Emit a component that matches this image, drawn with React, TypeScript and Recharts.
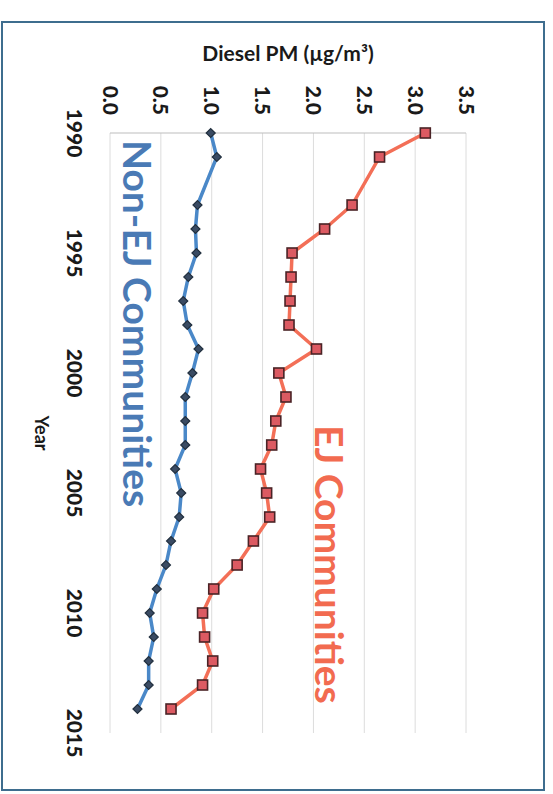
import React from 'react';
import { LineChart, Line, XAxis, YAxis, CartesianGrid } from 'recharts';

const years = [1990, 1991, 1993, 1994, 1995, 1996, 1997, 1998, 1999, 2000, 2001, 2002, 2003, 2004, 2005, 2006, 2007, 2008, 2009, 2010, 2011, 2012, 2013, 2014];
const ejValues = [3.1, 2.65, 2.38, 2.11, 1.79, 1.78, 1.77, 1.76, 2.03, 1.66, 1.73, 1.63, 1.59, 1.48, 1.54, 1.57, 1.41, 1.25, 1.02, 0.91, 0.93, 1.01, 0.91, 0.6];
const nonEjValues = [0.99, 1.05, 0.86, 0.84, 0.85, 0.77, 0.72, 0.76, 0.87, 0.81, 0.74, 0.74, 0.74, 0.64, 0.7, 0.68, 0.6, 0.55, 0.46, 0.39, 0.43, 0.38, 0.38, 0.27];
const yearTicks = [1990, 1995, 2000, 2005, 2010, 2015];
const valueTicks = [0, 0.5, 1, 1.5, 2, 2.5, 3, 3.5];

const data = years.map((y, i) => ({ year: y, ej: ejValues[i], nonEj: nonEjValues[i] }));

const FONT = 'Lato, "Open Sans", sans-serif';
const W = 768;
const H = 530;

const SquareDot = (props: any) => {
  const { cx, cy, index } = props;
  if (cx == null || cy == null) return <g key={`s${index}`} />;
  return (
    <rect key={`s${index}`} x={cx - 5} y={cy - 5} width={10} height={10}
      fill="#dc5a62" stroke="#4a2326" strokeWidth={1.6} />
  );
};

const DiamondDot = (props: any) => {
  const { cx, cy, index } = props;
  if (cx == null || cy == null) return <g key={`d${index}`} />;
  const r = 4.5;
  return (
    <polygon key={`d${index}`}
      points={`${cx},${cy - r} ${cx + r},${cy} ${cx},${cy + r} ${cx - r},${cy}`}
      fill="#3a4b63" stroke="#22303f" strokeWidth={1.2} />
  );
};

const fmt = (v: number) => v.toFixed(1);

export default function App() {
  return (
    <div style={{ position: 'absolute', left: 0, top: 0, width: 553, height: 794, background: '#ffffff', overflow: 'hidden' }}>
      <div style={{ position: 'absolute', left: 1, top: 21, width: 544, height: 770, border: '2px solid #3e6d8e', boxSizing: 'border-box' }} />
      <div style={{ position: 'absolute', left: 0, top: 0, width: W, height: H, transformOrigin: '0 0', transform: 'translate(540px, 22px) rotate(90deg)' }}>
        <LineChart width={W} height={H} data={data} margin={{ top: 74, right: 57, bottom: 0, left: 0 }}>
          <CartesianGrid vertical={false} stroke="#dcdcdc" strokeWidth={1} />
          <XAxis dataKey="year" type="number" domain={[1990, 2015]} ticks={yearTicks}
            height={100} axisLine={false} tickLine={false} tickSize={0} tickMargin={28}
            tick={{ fontFamily: FONT, fontWeight: 900, fontSize: 21, fill: '#1a1a1a' }} />
          <YAxis type="number" domain={[0, 3.5]} ticks={valueTicks} width={111}
            axisLine={{ stroke: '#bdbdbd', strokeWidth: 1.2 }} tickLine={false} tickSize={0} tickMargin={18}
            tickFormatter={fmt}
            tick={{ fontFamily: FONT, fontWeight: 900, fontSize: 21, fill: '#1a1a1a' }} />
          <Line type="linear" dataKey="ej" stroke="#f36f57" strokeWidth={3.5}
            dot={SquareDot} activeDot={false} isAnimationActive={false} />
          <Line type="linear" dataKey="nonEj" stroke="#4a88c8" strokeWidth={3.5}
            dot={DiamondDot} activeDot={false} isAnimationActive={false} />
        </LineChart>
        <svg width={W} height={H} style={{ position: 'absolute', left: 0, top: 0, pointerEvents: 'none' }}>
          <text x={39} y={252} transform="rotate(-90, 39, 252)" textAnchor="middle"
            fontFamily={FONT} fontWeight={700} fontSize={21} fill="#1a1a1a">Diesel PM (µg/m³)</text>
          <text x={411} y={505} textAnchor="middle" fontFamily={FONT} fontWeight={700} fontSize={18} fill="#1a1a1a">Year</text>
          <text x={118} y={417} fontFamily={FONT} fontWeight={700} fontSize={39} fill="#4a7ab5">Non-EJ Communities</text>
          <text x={403} y={225} fontFamily={FONT} fontWeight={700} fontSize={39} fill="#f26b50">EJ Communities</text>
        </svg>
      </div>
    </div>
  );
}
